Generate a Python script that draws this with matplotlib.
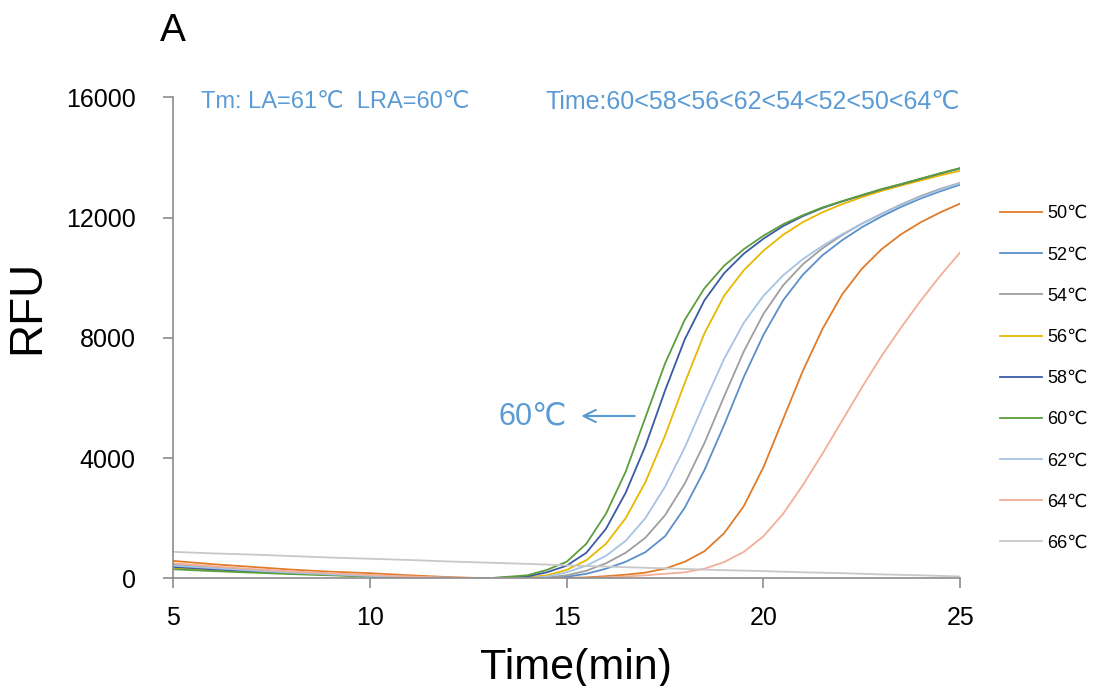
import matplotlib
matplotlib.use("Agg")
import matplotlib.pyplot as plt

plt.rcParams['font.family'] = ['Liberation Sans', 'DejaVu Sans']

# time axis (min)
time = [5, 6, 7, 8, 9, 10, 11, 12, 13, 14, 14.5, 15, 15.5, 16, 16.5, 17, 17.5,
        18, 18.5, 19, 19.5, 20, 20.5, 21, 21.5, 22, 22.5, 23, 23.5, 24, 24.5, 25]

rfu_50 = [580, 470, 380, 290, 220, 170, 100, 40, 0, 0, 0, 10, 30, 70, 120, 190, 320,
          550, 900, 1500, 2400, 3700, 5300, 6900, 8300, 9450, 10300, 10950, 11450, 11850, 12180, 12470]
rfu_52 = [400, 320, 250, 180, 125, 80, 40, 15, 0, 0, 10, 50, 150, 320, 550, 870, 1400,
          2350, 3600, 5100, 6700, 8100, 9250, 10100, 10750, 11250, 11680, 12040, 12360, 12640, 12880, 13100]
rfu_54 = [450, 360, 280, 200, 140, 90, 45, 15, 0, 0, 30, 100, 250, 500, 850, 1350, 2100,
          3150, 4500, 6050, 7550, 8800, 9750, 10450, 10980, 11420, 11800, 12130, 12440, 12720, 12960, 13160]
rfu_56 = [350, 280, 220, 160, 110, 70, 35, 10, 0, 30, 100, 280, 600, 1150, 2000, 3200, 4750,
          6500, 8150, 9400, 10250, 10900, 11430, 11850, 12180, 12450, 12680, 12890, 13070, 13240, 13410, 13560]
rfu_58 = [380, 300, 230, 170, 120, 70, 35, 10, 0, 60, 200, 420, 850, 1650, 2850, 4400, 6250,
          7950, 9250, 10150, 10800, 11300, 11720, 12050, 12320, 12540, 12740, 12940, 13110, 13290, 13470, 13640]
rfu_60 = [300, 240, 190, 140, 100, 60, 30, 10, 0, 100, 280, 550, 1150, 2150, 3550, 5350, 7150,
          8600, 9650, 10400, 10950, 11400, 11780, 12080, 12340, 12550, 12750, 12950, 13120, 13300, 13480, 13650]
rfu_62 = [420, 340, 260, 190, 130, 80, 40, 15, 0, 0, 60, 200, 420, 750, 1250, 2000, 3050,
          4350, 5850, 7300, 8500, 9400, 10080, 10620, 11060, 11450, 11800, 12120, 12420, 12690, 12930, 13150]
rfu_64 = [500, 400, 310, 230, 170, 110, 60, 20, 0, 0, 0, 0, 10, 30, 60, 100, 150,
          200, 320, 540, 880, 1400, 2150, 3100, 4150, 5250, 6350, 7400, 8350, 9250, 10080, 10850]
rfu_66 = [880, 830, 790, 740, 690, 650, 610, 560, 520, 480, 455, 430, 410, 390, 370, 350, 330,
          310, 290, 270, 255, 240, 220, 200, 185, 170, 150, 130, 115, 100, 80, 60]

labels = ["50℃", "52℃", "54℃", "56℃", "58℃", "60℃", "62℃", "64℃", "66℃"]
series = [rfu_50, rfu_52, rfu_54, rfu_56, rfu_58, rfu_60, rfu_62, rfu_64, rfu_66]
colors = ["#E07B2A", "#5B8FC9", "#9E9E9E", "#E8B800", "#3B5AA6",
          "#5C9E3C", "#A5C3E3", "#F2AE97", "#C8C8C8"]

text_blue = "#5B9BD5"

fig = plt.figure(figsize=(10.95, 6.86), dpi=100)
ax = fig.add_axes([0.158, 0.157, 0.719, 0.701])

lines = []
for y, c, lab in zip(series, colors, labels):
    ln, = ax.plot(time, y, color=c, lw=1.3, label=lab)
    lines.append(ln)

ax.set_xlim(5, 25)
ax.set_ylim(0, 16000)
ax.set_xticks([5, 10, 15, 20, 25])
ax.set_yticks([0, 4000, 8000, 12000, 16000])
for s in ["top", "right"]:
    ax.spines[s].set_visible(False)
for s in ["left", "bottom"]:
    ax.spines[s].set_color("#8c8c8c")
    ax.spines[s].set_linewidth(1.2)
ax.tick_params(axis="both", colors="#8c8c8c", labelcolor="black", labelsize=18, length=7, width=1.2)
ax.tick_params(axis="y", pad=20)
ax.tick_params(axis="x", pad=13)

ax.set_ylabel("RFU", fontsize=33)
ax.yaxis.set_label_coords(-0.157, 0.565)
ax.set_xlabel("Time(min)", fontsize=31)
ax.xaxis.set_label_coords(0.512, -0.145)

ax.text(0.035, 0.99, "Tm: LA=61℃  LRA=60℃", transform=ax.transAxes, color=text_blue,
        fontsize=17, ha="left", va="center")
ax.text(1.0, 0.99, "Time:60<58<56<62<54<52<50<64℃", transform=ax.transAxes, color=text_blue,
        fontsize=18, ha="right", va="center")

ax.annotate("", xy=(15.3, 5400), xytext=(16.8, 5400),
            arrowprops=dict(arrowstyle="->", color=text_blue, lw=1.5, mutation_scale=22))
ax.text(15.0, 5400, "60℃", color=text_blue, fontsize=22, ha="right", va="center")

fig.text(0.146, 0.955, "A", fontsize=28, ha="left", va="center")

fig.legend(handles=lines, loc="upper left", bbox_to_anchor=(0.8986, 0.7245), frameon=False,
           fontsize=13, handlelength=2.33, handletextpad=0.28, labelspacing=1.34)

fig.savefig("out.png", dpi=100)
plt.close(fig)
